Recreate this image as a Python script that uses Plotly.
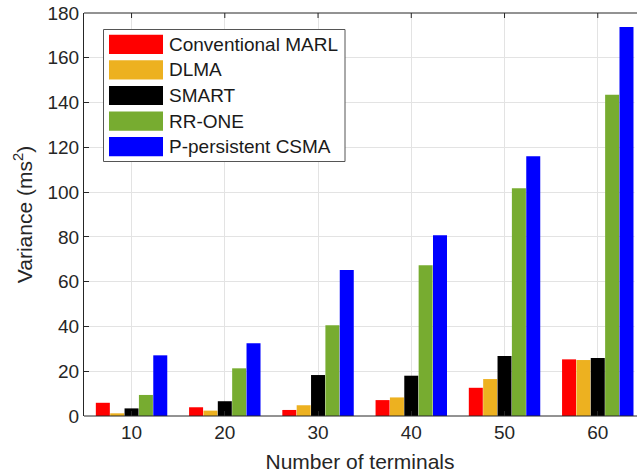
import plotly.graph_objects as go

# Number of terminals on the x axis
terminals = [10, 20, 30, 40, 50, 60]

# Delay variance (ms^2) for each scheme
series_names = ["Conventional MARL", "DLMA", "SMART", "RR-ONE", "P-persistent CSMA"]
conventional_marl = [5.9, 3.9, 2.7, 7.1, 12.6, 25.3]
dlma = [1.2, 2.4, 4.8, 8.3, 16.5, 25.0]
smart = [3.4, 6.6, 18.3, 18.0, 26.8, 25.9]
rr_one = [9.4, 21.3, 40.5, 67.3, 101.7, 143.5]
p_csma = [27.1, 32.5, 65.2, 80.7, 116.0, 173.7]

series_values = [conventional_marl, dlma, smart, rr_one, p_csma]
series_colors = ["#FF0000", "#EDB120", "#000000", "#77AC30", "#0000FF"]

y_ticks = [0, 20, 40, 60, 80, 100, 120, 140, 160, 180]

FONT = "Liberation Sans, Arial, Helvetica, sans-serif"
AXIS_COLOR = "#262626"
GRID_COLOR = "#e3e3e3"

W, H = 637, 476
M_L, M_R, M_T, M_B = 84, 1, 13, 60

fig = go.Figure()
for name, vals, color in zip(series_names, series_values, series_colors):
    fig.add_trace(go.Bar(
        x=terminals, y=vals, name=name,
        marker=dict(color=color, line=dict(width=0)),
        showlegend=False,
    ))

plot_w = W - M_L - M_R
plot_h = H - M_T - M_B


def px_x(px):
    return (px - M_L) / plot_w


def px_y(py):
    return (H - M_B - py) / plot_h


shapes = []

# Open right side: keep the strip past the last bar clear, then draw the
# bottom and top box lines across to the page edge
shapes.append(dict(
    type="rect", xref="paper", yref="paper",
    x0=px_x(634.5), x1=1.0 + M_R / plot_w, y0=0, y1=1,
    fillcolor="white", line=dict(width=0), layer="above",
))
for yp in (0, 1):
    shapes.append(dict(
        type="line", xref="paper", yref="paper",
        x0=0, x1=1.0 + M_R / plot_w, y0=yp, y1=yp,
        line=dict(color=AXIS_COLOR, width=1), layer="above",
    ))
# Tick marks along the top edge, at the terminal positions
for t in terminals:
    shapes.append(dict(
        type="line", xref="x", yref="paper",
        x0=t, x1=t, y0=1, y1=px_y(M_T + 5),
        line=dict(color=AXIS_COLOR, width=1), layer="above",
    ))

# Boxed legend with wide colour swatches
shapes.append(dict(
    type="rect", xref="paper", yref="paper",
    x0=px_x(103.5), x1=px_x(345), y0=px_y(161.5), y1=px_y(29.5),
    fillcolor="white", line=dict(color="#555555", width=1), layer="above",
))
annotations = []
row_top = 44.3
row_pitch = 25.6
for i, (name, color) in enumerate(zip(series_names, series_colors)):
    cy = row_top + i * row_pitch
    shapes.append(dict(
        type="rect", xref="paper", yref="paper",
        x0=px_x(109), x1=px_x(163), y0=px_y(cy + 9.6), y1=px_y(cy - 9.6),
        fillcolor=color, line=dict(width=0), layer="above",
    ))
    annotations.append(dict(
        xref="paper", yref="paper", x=px_x(166.5), y=px_y(cy),
        xanchor="left", yanchor="middle", text=name, showarrow=False,
        font=dict(family=FONT, size=19, color="#1a1a1a"),
    ))

fig.update_layout(
    width=W, height=H,
    margin=dict(l=M_L, r=M_R, t=M_T, b=M_B, autoexpand=False),
    paper_bgcolor="white", plot_bgcolor="white",
    barmode="group", bargap=0.23, bargroupgap=0.025,
    font=dict(family=FONT, size=19, color=AXIS_COLOR),
    shapes=shapes, annotations=annotations,
    xaxis=dict(
        range=[4.9, 64.1], tickvals=terminals, ticktext=[str(t) for t in terminals],
        showgrid=True, gridcolor=GRID_COLOR, gridwidth=1,
        showline=False, mirror=False,
        ticks="inside", ticklen=5, tickcolor=AXIS_COLOR,
        ticklabelstandoff=3, automargin=False,
        zeroline=False,
        title=dict(text="Number of terminals", font=dict(size=21, color=AXIS_COLOR), standoff=12),
    ),
    yaxis=dict(
        range=[0, 180], tickvals=y_ticks,
        showgrid=True, gridcolor=GRID_COLOR, gridwidth=1,
        showline=True, linecolor=AXIS_COLOR, linewidth=1, mirror=False,
        ticks="inside", ticklen=5, tickcolor=AXIS_COLOR,
        automargin=False,
        zeroline=False,
        title=dict(text="Variance (ms<sup>2</sup>)", font=dict(size=21, color=AXIS_COLOR), standoff=9),
    ),
)

fig.write_html("out.html")
